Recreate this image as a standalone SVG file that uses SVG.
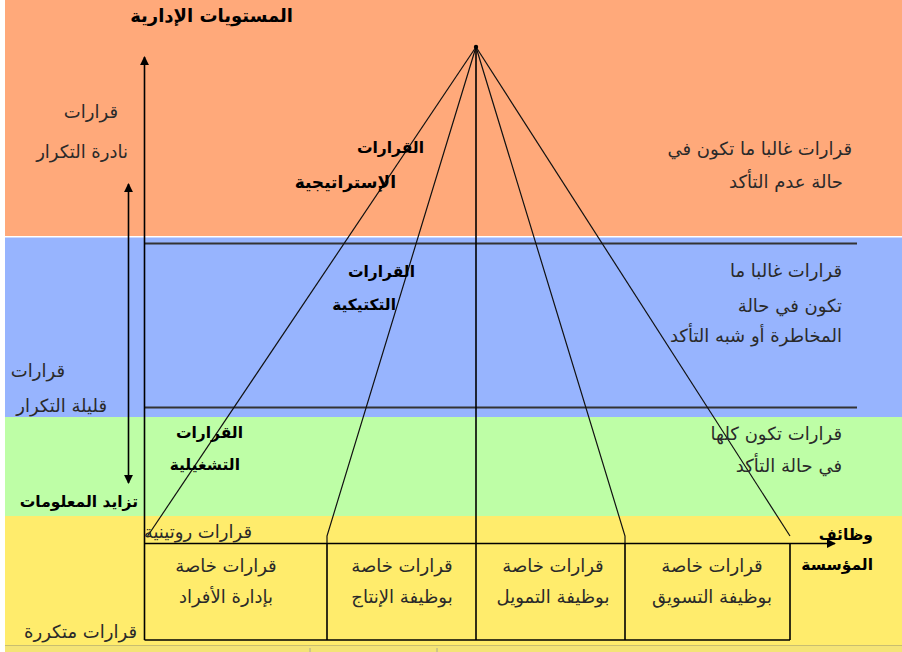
<svg xmlns="http://www.w3.org/2000/svg" width="902" height="652" viewBox="0 0 902 652">
  <defs>
    <marker id="arrow" viewBox="0 0 10 10" refX="9" refY="5" markerWidth="9" markerHeight="9" markerUnits="userSpaceOnUse" orient="auto-start-reverse">
      <path d="M0,0 L10,5 L0,10 z" fill="#000"/>
    </marker>
    <style>
      .t { font-family: "DejaVu Sans", "Noto Sans", sans-serif; font-size: 18px; fill: #2a2a2a; text-anchor: end; }
      .b { font-family: "DejaVu Sans", "Noto Sans", sans-serif; font-size: 15.5px; font-weight: bold; fill: #000; text-anchor: end; }
      .c { text-anchor: middle; }
      .ln { stroke: #000; stroke-width: 1.6; fill: none; }
      .thin { stroke: #111; stroke-width: 1.2; fill: none; }
      .rule { stroke: #333; stroke-width: 2; fill: none; }
    </style>
  </defs>

  <!-- background bands -->
  <rect x="0" y="0" width="902" height="652" fill="#ffffff"/>
  <rect x="5" y="0" width="897" height="236" fill="#FFA97A"/>
  <rect x="5" y="237.5" width="897" height="179.5" fill="#97B4FE"/>
  <rect x="5" y="417" width="897" height="99" fill="#BEFEA6"/>
  <rect x="5" y="516" width="897" height="129" fill="#FFEC6C"/>
  <rect x="5" y="645" width="897" height="7" fill="#F4E476"/>
  <line x1="5" y1="645.5" x2="902" y2="645.5" stroke="#C8BE70" stroke-width="1.2"/>
  <line x1="310" y1="648" x2="310" y2="652" stroke="#999" stroke-width="0.8"/>
  <line x1="437" y1="648" x2="437" y2="652" stroke="#999" stroke-width="0.8"/>

  <!-- connectors -->
  <g id="connectors">
    <!-- level boundaries -->
    <line class="rule" x1="145" y1="243.5" x2="857" y2="243.5"/>
    <line class="rule" x1="145" y1="407.5" x2="857" y2="407.5"/>
    <!-- management level axis -->
    <line class="ln" x1="144.5" y1="640" x2="144.5" y2="57" marker-end="url(#arrow)"/>
    <!-- information / frequency axis -->
    <line class="ln" x1="128.5" y1="184" x2="128.5" y2="483" marker-start="url(#arrow)" marker-end="url(#arrow)"/>
    <!-- functions axis -->
    <line class="ln" x1="144.5" y1="543.5" x2="835" y2="543.5" marker-end="url(#arrow)"/>
    <!-- pyramid rays from the apex -->
    <line class="thin" x1="476" y1="47" x2="147" y2="537"/>
    <polyline class="thin" points="476,47 327,536 327,543"/>
    <line class="ln" x1="476" y1="47" x2="476" y2="640"/>
    <polyline class="thin" points="476,47 625,536 625,543"/>
    <line class="thin" x1="476" y1="47" x2="790" y2="536"/>
    <circle cx="476" cy="47" r="2.2" fill="#000"/>
  </g>

  <!-- function boxes -->
  <g id="functions-box">
    <line class="ln" x1="144.5" y1="640" x2="790" y2="640" stroke-width="2.4"/>
    <line class="ln" x1="790" y1="543.5" x2="790" y2="640"/>
    <line class="ln" x1="327" y1="543.5" x2="327" y2="640"/>
    <line class="ln" x1="625" y1="543.5" x2="625" y2="640"/>
  </g>

  <g id="title">
    <text class="b" x="293" y="22" style="font-size:18px">المستويات الإدارية</text>
  </g>

  <g id="left-labels">
    <text class="t" x="118" y="118">قرارات</text>
    <text class="t" x="128" y="158">نادرة التكرار</text>
    <text class="t" x="65" y="377">قرارات</text>
    <text class="t" x="107" y="412">قليلة التكرار</text>
    <text class="b" x="138" y="507">تزايد المعلومات</text>
    <text class="t" x="137" y="638">قرارات متكررة</text>
  </g>

  <g id="strategic">
    <text class="b" x="424" y="153">القرارات</text>
    <text class="b" x="396" y="188" style="font-size:17px">الإستراتيجية</text>
    <text class="t" x="852" y="155">قرارات غالبا ما تكون في</text>
    <text class="t" x="843" y="188">حالة عدم التأكد</text>
  </g>

  <g id="tactical">
    <text class="b" x="415" y="277">القرارات</text>
    <text class="b" x="396" y="310">التكتيكية</text>
    <text class="t" x="842" y="277">قرارات غالبا ما</text>
    <text class="t" x="842" y="312">تكون في حالة</text>
    <text class="t" x="842" y="342">المخاطرة أو شبه التأكد</text>
  </g>

  <g id="operational">
    <text class="b" x="243" y="438">القرارات</text>
    <text class="b" x="240" y="470">التشغيلية</text>
    <text class="t" x="842" y="440">قرارات تكون كلها</text>
    <text class="t" x="842" y="472">في حالة التأكد</text>
  </g>

  <g id="routine">
    <text class="t" x="252" y="538">قرارات روتينية</text>
  </g>

  <g id="hr">
    <text class="t c" x="226" y="572">قرارات خاصة</text>
    <text class="t c" x="226" y="603">بإدارة الأفراد</text>
  </g>
  <g id="production">
    <text class="t c" x="402" y="572">قرارات خاصة</text>
    <text class="t c" x="402" y="603">بوظيفة الإنتاج</text>
  </g>
  <g id="finance">
    <text class="t c" x="553" y="572">قرارات خاصة</text>
    <text class="t c" x="553" y="603">بوظيفة التمويل</text>
  </g>
  <g id="marketing">
    <text class="t c" x="712" y="572">قرارات خاصة</text>
    <text class="t c" x="712" y="603">بوظيفة التسويق</text>
  </g>

  <g id="functions-label">
    <text class="b" x="873" y="540">وظائف</text>
    <text class="b" x="873" y="570">المؤسسة</text>
  </g>
</svg>
